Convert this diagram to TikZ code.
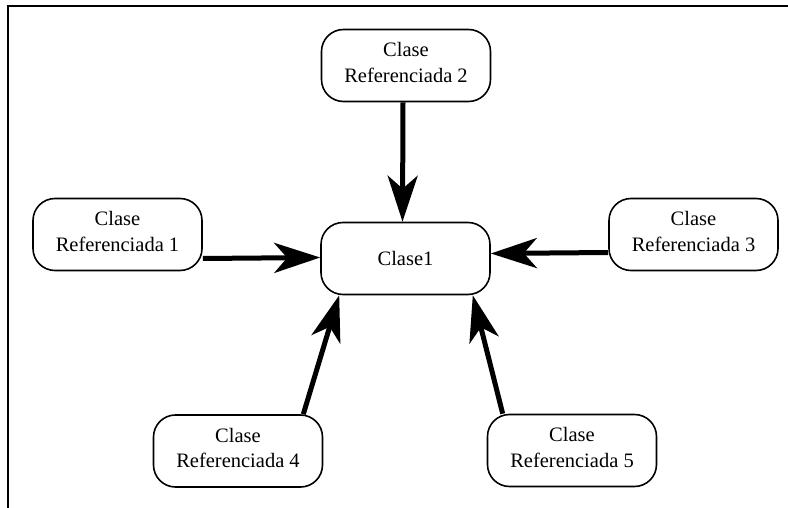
\documentclass[tikz,border=0pt]{standalone}
\usepackage{fontspec}
\setmainfont{Liberation Serif}
\usetikzlibrary{arrows.meta}
\begin{document}
\begin{tikzpicture}[x=1pt,y=-1pt,
  classbox/.style={draw, line width=1.6pt, rounded corners=22pt,
    minimum width=169pt, minimum height=72pt, align=center,
    inner sep=0pt, font=\fontsize{20.5}{25.5}\selectfont},
  refarrow/.style={line width=5pt,
    -{Stealth[length=46pt,width=30pt,inset=13pt]}}]
  \useasboundingbox (0,0) rectangle (788,508);
  % frame: top and left edges only
  \coordinate (fbl) at (8,508);
  \coordinate (ftl) at (8,6);
  \coordinate (ftr) at (788,6);
  \draw[line width=2.2pt] (fbl) -- (ftl) -- (ftr);

  \node[classbox] (c)  at (405.5,258.5) {Clase1};
  \node[classbox] (r2) at (406,65.5)   {Clase\\Referenciada 2\rule[-6pt]{0pt}{6pt}};
  \node[classbox] (r1) at (117.5,234.5) {Clase\\Referenciada 1\rule[-6pt]{0pt}{6pt}};
  \node[classbox] (r3) at (693.5,234.5) {Clase\\Referenciada 3\rule[-6pt]{0pt}{6pt}};
  \node[classbox] (r4) at (238,451)    {Clase\\Referenciada 4\rule[-6pt]{0pt}{6pt}};
  \node[classbox] (r5) at (572,450.5)  {Clase\\Referenciada 5\rule[-6pt]{0pt}{6pt}};

  \draw[refarrow] ([xshift=-3pt]r2.south) -- ([xshift=-3pt]c.north);
  \draw[refarrow] ([yshift=-24pt]r1.east) -- ([yshift=1pt]c.west);
  \draw[refarrow] ([yshift=-18pt]r3.west) -- ([yshift=5pt]c.east);
  \draw[refarrow] ([xshift=-20pt]r4.north east) -- ([xshift=19pt]c.south west);
  \draw[refarrow] ([xshift=16pt]r5.north west) -- ([xshift=-18pt]c.south east);
\end{tikzpicture}
\end{document}
